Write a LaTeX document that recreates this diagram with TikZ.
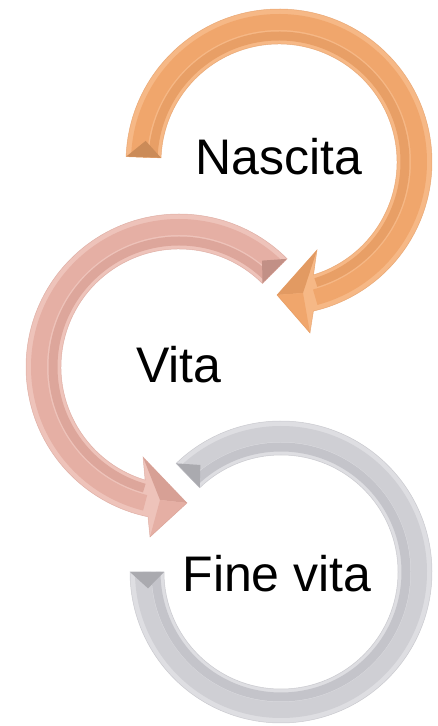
\documentclass[tikz,border=0pt]{standalone}
\usepackage{fontspec}
\setmainfont{Liberation Sans}
\usetikzlibrary{calc}
\definecolor{olight}{HTML}{F6B886}
\definecolor{omain}{HTML}{F0A66C}
\definecolor{odark}{HTML}{E29A62}
\definecolor{plight}{HTML}{EEC3BA}
\definecolor{pmain}{HTML}{E5AFA4}
\definecolor{pdark}{HTML}{D7A095}
\definecolor{glight}{HTML}{DEDEE2}
\definecolor{gmain}{HTML}{CFCFD4}
\definecolor{gdark}{HTML}{BDBDC3}
\tikzset{
  label/.style={font=\fontsize{50}{60}\selectfont, text=black, anchor=base, inner sep=0pt},
}
\begin{document}
\begin{tikzpicture}[x=1pt,y=1pt]
\useasboundingbox (0,0) rectangle (437,726);
\coordinate (Oo) at (279,564);
\coordinate (Op) at (179,359);
\coordinate (Og) at (281,154);

% ---------- gray ring ----------
\def\gshape{($(Og)+(134:151)$) arc[start angle=134, end angle=-180, radius=151]
  -- ($(Og)+(180:117)$) arc[start angle=-180, end angle=134, radius=117] -- cycle}
\fill[glight] \gshape;
\begin{scope}
\clip \gshape;
\draw[line width=16pt, gmain] ($(Og)+(134:138)$) arc[start angle=134, end angle=-180, radius=138];
\draw[line width=9pt, gdark!60!gmain] ($(Og)+(134:125)$) arc[start angle=134, end angle=-180, radius=125];
\fill[gdark!90!black] ($(Og)+(134:151)$) -- ($(Og)+(134:117)$) -- ($(Og)+(127:134)$) -- cycle;
\fill[gdark!90!black] ($(Og)+(180:151)$) -- ($(Og)+(180:117)$) -- ($(Og)+(187:134)$) -- cycle;
\end{scope}
\draw[gdark, line width=0.5pt, opacity=0.7] \gshape;

% ---------- pink arrow ----------
\def\pshape{($(Op)+(45:153)$) arc[start angle=45, end angle=258.3, radius=153]
  -- (150,189) -- (187,223) -- (143,269)
  -- ($(Op)+(253.3:118)$) arc[start angle=253.3, end angle=45, radius=118] -- cycle}
\fill[plight] \pshape;
\begin{scope}
\clip \pshape;
\draw[line width=16pt, pmain] ($(Op)+(45:140)$) arc[start angle=45, end angle=256, radius=140];
\draw[line width=9pt, pdark!60!pmain] ($(Op)+(45:126)$) arc[start angle=45, end angle=254, radius=126];
\fill[pdark!90!black] ($(Op)+(45:153)$) -- ($(Op)+(45:118)$) -- ($(Op)+(52:135)$) -- cycle;
\fill[pdark] (143,269) -- (187,223) -- (160,226) -- cycle;
\fill[pmain] (150,189) -- (187,223) -- (160,226) -- cycle;
\end{scope}
\draw[pdark, line width=0.5pt, opacity=0.7] \pshape;

% ---------- orange arrow ----------
\def\oshape{($(Oo)+(178:153)$) arc[start angle=178, end angle=-77, radius=153]
  -- (310,393) -- (277,431) -- (317,476)
  -- ($(Oo)+(-73:118)$) arc[start angle=-73, end angle=178, radius=118] -- cycle}
\fill[olight] \oshape;
\begin{scope}
\clip \oshape;
\draw[line width=16pt, omain] ($(Oo)+(178:140)$) arc[start angle=178, end angle=-75, radius=140];
\draw[line width=9pt, odark!60!omain] ($(Oo)+(178:126)$) arc[start angle=178, end angle=-73, radius=126];
\fill[odark!90!black] ($(Oo)+(178:153)$) -- ($(Oo)+(178:118)$) -- ($(Oo)+(171:135)$) -- cycle;
\fill[odark] (317,476) -- (277,431) -- (303,433) -- cycle;
\fill[omain] (310,393) -- (277,431) -- (303,433) -- cycle;
\end{scope}
\draw[odark, line width=0.5pt, opacity=0.7] \oshape;

% ---------- labels ----------
\node[label] (nascita) at (279,551) {Nascita};
\node[label] (vita) at (179,343) {Vita};
\node[label] (fine) at (277,134) {Fine vita};
\end{tikzpicture}
\end{document}
